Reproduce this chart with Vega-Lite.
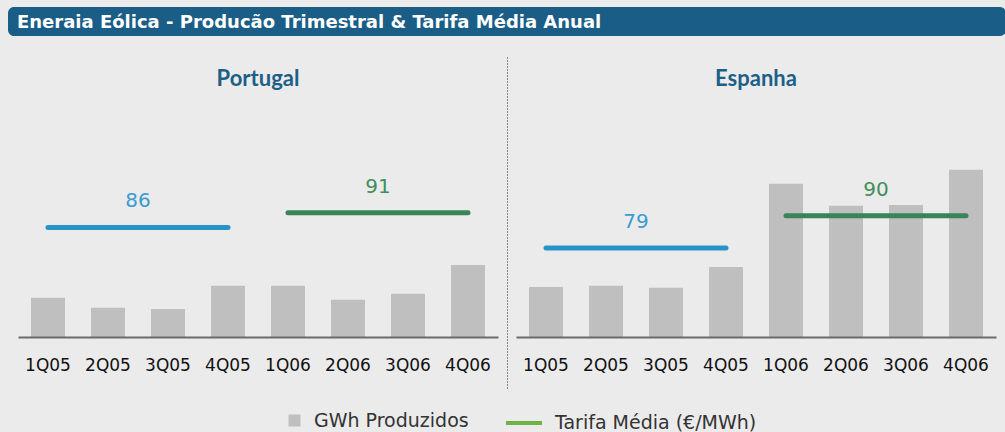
{
  "$schema": "https://vega.github.io/schema/vega-lite/v6.json",
  "background": "#ebebeb",
  "padding": {"left": 8, "top": 7, "right": 0, "bottom": 0},
  "config": {"view": {"stroke": null}, "font": "DejaVu Sans"},
  "datasets": {
    "titulo": [{"t": "Eneraia Eólica - Producão Trimestral & Tarifa Média Anual"}],
    "portugal": [
      {"trimestre": "1Q05", "ano": "2005", "gwh": 98, "tarifa": 86},
      {"trimestre": "2Q05", "ano": "2005", "gwh": 73, "tarifa": 86},
      {"trimestre": "3Q05", "ano": "2005", "gwh": 70, "tarifa": 86},
      {"trimestre": "4Q05", "ano": "2005", "gwh": 128, "tarifa": 86},
      {"trimestre": "1Q06", "ano": "2006", "gwh": 128, "tarifa": 91},
      {"trimestre": "2Q06", "ano": "2006", "gwh": 93, "tarifa": 91},
      {"trimestre": "3Q06", "ano": "2006", "gwh": 108, "tarifa": 91},
      {"trimestre": "4Q06", "ano": "2006", "gwh": 180, "tarifa": 91}
    ],
    "espanha": [
      {"trimestre": "1Q05", "ano": "2005", "gwh": 125, "tarifa": 79},
      {"trimestre": "2Q05", "ano": "2005", "gwh": 128, "tarifa": 79},
      {"trimestre": "3Q05", "ano": "2005", "gwh": 123, "tarifa": 79},
      {"trimestre": "4Q05", "ano": "2005", "gwh": 175, "tarifa": 79},
      {"trimestre": "1Q06", "ano": "2006", "gwh": 383, "tarifa": 90},
      {"trimestre": "2Q06", "ano": "2006", "gwh": 328, "tarifa": 90},
      {"trimestre": "3Q06", "ano": "2006", "gwh": 330, "tarifa": 90},
      {"trimestre": "4Q06", "ano": "2006", "gwh": 418, "tarifa": 90}
    ]
  },
  "spacing": 21,
  "center": true,
  "vconcat": [
    {
      "width": 998,
      "height": 29,
      "view": {"fill": "#1a5d86", "stroke": null, "cornerRadius": 6},
      "data": {"name": "titulo"},
      "mark": {"type": "text", "align": "left", "baseline": "middle", "dx": 9, "dy": 1, "font": "DejaVu Sans", "fontWeight": "bold", "fontSize": 18, "color": "#ffffff"},
      "encoding": {
        "text": {"field": "t", "type": "nominal"},
        "x": {"datum": 0, "type": "quantitative", "scale": {"domain": [0, 1]}, "axis": null}
      }
    },
    {
      "spacing": 9,
      "resolve": {"scale": {"x": "independent", "y": "independent"}},
      "hconcat": [
        {
          "width": 480,
          "height": 331,
          "title": {"text": "Portugal", "frame": "group", "offset": -30, "dy": 4, "font": "Lato", "fontSize": 22, "fontWeight": "bold", "color": "#1d5f86"},
          "data": {"name": "portugal"},
          "encoding": {
            "x": {"field": "trimestre", "type": "nominal", "sort": null,
              "scale": {"paddingInner": 0.4333, "paddingOuter": 0.2167},
              "axis": {"orient": "bottom", "offset": -51, "domainColor": "#6b6b6b", "domainWidth": 2, "ticks": false, "grid": false, "labelAngle": 0, "labelFont": "DejaVu Sans", "labelFontSize": 17, "labelColor": "#111111", "labelPadding": 20, "title": null, "zindex": 1}}
          },
          "layer": [
            {
              "mark": {"type": "bar"},
              "encoding": {
                "y": {"field": "gwh", "type": "quantitative", "scale": {"domain": [-127.5, 700], "nice": false, "zero": false},
                  "axis": {"orient": "right", "offset": 9, "domainDash": [1, 2], "domainColor": "#222222", "domainWidth": 1, "ticks": false, "labels": false, "grid": false, "title": null}},
                "color": {"datum": "GWh Produzidos", "scale": {"range": ["#bfbfbf"]},
                  "legend": {"orient": "none", "legendX": 277, "legendY": 404, "symbolType": "square", "symbolSize": 144, "symbolStrokeWidth": 0, "labelFont": "DejaVu Sans", "labelFontSize": 19, "labelColor": "#333333", "labelOffset": 10, "labelLimit": 400, "title": null, "padding": 0}}
              }
            },
            {
              "mark": {"type": "line", "strokeWidth": 5, "strokeCap": "round"},
              "encoding": {
                "y": {"field": "tarifa", "type": "quantitative", "scale": {"domain": [31.4, 144], "nice": false, "zero": false}, "axis": null},
                "stroke": {"field": "ano", "type": "nominal", "scale": {"domain": ["2005", "2006"], "range": ["#2893c9", "#39845a"]}, "legend": null},
                "opacity": {"datum": "Tarifa Média (€/MWh)", "type": "nominal", "scale": {"range": [1]},
                  "legend": {"orient": "none", "legendX": 496, "legendY": 396, "symbolType": "stroke", "symbolSize": 1296, "symbolStrokeColor": "#6eb445", "symbolStrokeWidth": 4, "labelFont": "DejaVu Sans", "labelFontSize": 19, "labelColor": "#333333", "labelOffset": 11, "labelLimit": 400, "title": null, "padding": 0}}
              }
            },
            {
              "transform": [{"filter": "datum.trimestre == '2Q05' || datum.trimestre == '2Q06'"}],
              "mark": {"type": "text", "dx": 30, "dy": -26, "fontSize": 20, "baseline": "middle", "font": "DejaVu Sans"},
              "encoding": {
                "y": {"field": "tarifa", "type": "quantitative", "scale": {"domain": [31.4, 144], "nice": false, "zero": false}, "axis": null},
                "text": {"field": "tarifa", "type": "quantitative"},
                "fill": {"field": "ano", "type": "nominal", "scale": {"domain": ["2005", "2006"], "range": ["#3a9bd2", "#3f8f5c"]}, "legend": null}
              }
            }
          ],
          "resolve": {"scale": {"y": "independent"}}
        },
        {
          "width": 480,
          "height": 331,
          "title": {"text": "Espanha", "frame": "group", "offset": -30, "dy": 4, "font": "Lato", "fontSize": 22, "fontWeight": "bold", "color": "#1d5f86"},
          "data": {"name": "espanha"},
          "encoding": {
            "x": {"field": "trimestre", "type": "nominal", "sort": null,
              "scale": {"paddingInner": 0.4333, "paddingOuter": 0.2167},
              "axis": {"orient": "bottom", "offset": -51, "domainColor": "#6b6b6b", "domainWidth": 2, "ticks": false, "grid": false, "labelAngle": 0, "labelFont": "DejaVu Sans", "labelFontSize": 17, "labelColor": "#111111", "labelPadding": 20, "title": null, "zindex": 1}}
          },
          "layer": [
            {
              "mark": {"type": "bar"},
              "encoding": {
                "y": {"field": "gwh", "type": "quantitative", "scale": {"domain": [-127.5, 700], "nice": false, "zero": false}, "axis": null},
                "color": {"datum": "GWh Produzidos", "scale": {"range": ["#bfbfbf"]},
                  "legend": {"orient": "none", "legendX": 277, "legendY": 404, "symbolType": "square", "symbolSize": 144, "symbolStrokeWidth": 0, "labelFont": "DejaVu Sans", "labelFontSize": 19, "labelColor": "#333333", "labelOffset": 10, "labelLimit": 400, "title": null, "padding": 0}}
              }
            },
            {
              "mark": {"type": "line", "strokeWidth": 5, "strokeCap": "round"},
              "encoding": {
                "y": {"field": "tarifa", "type": "quantitative", "scale": {"domain": [31.4, 144], "nice": false, "zero": false}, "axis": null},
                "stroke": {"field": "ano", "type": "nominal", "scale": {"domain": ["2005", "2006"], "range": ["#2893c9", "#39845a"]}, "legend": null},
                "opacity": {"datum": "Tarifa Média (€/MWh)", "type": "nominal", "scale": {"range": [1]},
                  "legend": {"orient": "none", "legendX": 496, "legendY": 396, "symbolType": "stroke", "symbolSize": 1296, "symbolStrokeColor": "#6eb445", "symbolStrokeWidth": 4, "labelFont": "DejaVu Sans", "labelFontSize": 19, "labelColor": "#333333", "labelOffset": 11, "labelLimit": 400, "title": null, "padding": 0}}
              }
            },
            {
              "transform": [{"filter": "datum.trimestre == '2Q05' || datum.trimestre == '2Q06'"}],
              "mark": {"type": "text", "dx": 30, "dy": -26, "fontSize": 20, "baseline": "middle", "font": "DejaVu Sans"},
              "encoding": {
                "y": {"field": "tarifa", "type": "quantitative", "scale": {"domain": [31.4, 144], "nice": false, "zero": false}, "axis": null},
                "text": {"field": "tarifa", "type": "quantitative"},
                "fill": {"field": "ano", "type": "nominal", "scale": {"domain": ["2005", "2006"], "range": ["#3a9bd2", "#3f8f5c"]}, "legend": null}
              }
            }
          ],
          "resolve": {"scale": {"y": "independent"}}
        }
      ]
    }
  ]
}
